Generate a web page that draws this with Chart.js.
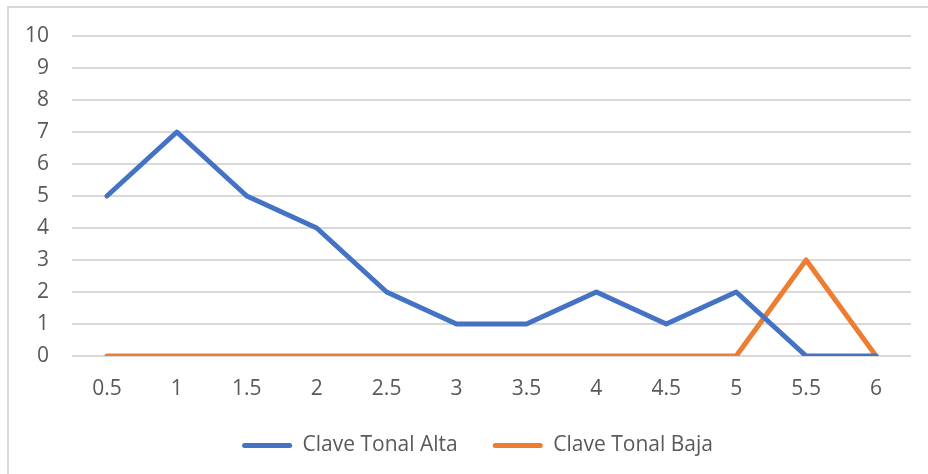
<!DOCTYPE html>
<html>
<head>
<meta charset="utf-8">
<script src="https://cdn.jsdelivr.net/npm/chart.js@4/dist/chart.umd.min.js"></script>
<style>
  html, body { margin: 0; padding: 0; background: #ffffff; }
  #wrap { width: 928px; height: 474px; position: relative; }
</style>
</head>
<body>
<div id="wrap"><canvas id="chart" width="928" height="474"></canvas></div>
<script>
// Category labels along the x axis
const categories = ['0.5', '1', '1.5', '2', '2.5', '3', '3.5', '4', '4.5', '5', '5.5', '6'];
// Series values
const claveTonalAlta = [5, 7, 5, 4, 2, 1, 1, 2, 1, 2, 0, 0];
const claveTonalBaja = [0, 0, 0, 0, 0, 0, 0, 0, 0, 0, 3, 0];
// Value axis range
const yMin = 0;
const yMax = 10;
const yStep = 1;

const textColor = '#595959';
const gridColor = '#D9D9D9';
const fontFamily = "'Open Sans', 'Liberation Sans', sans-serif";

// Thin frame around the chart block
const framePlugin = {
  id: 'frame',
  beforeDraw(chart) {
    const ctx = chart.ctx;
    ctx.save();
    ctx.fillStyle = '#ffffff';
    ctx.fillRect(0, 0, chart.width, chart.height);
    ctx.strokeStyle = gridColor;
    ctx.lineWidth = 2;
    ctx.strokeRect(8, 7, chart.width + 20, chart.height + 20);
    ctx.restore();
  }
};

// Centre the legend under the plot area rather than the full canvas
const legendShift = {
  id: 'legendShift',
  afterLayout(chart) {
    const lg = chart.legend;
    if (lg) { lg.left += 22; lg.right += 22; }
  }
};

new Chart(document.getElementById('chart'), {
  type: 'line',
  data: {
    labels: categories,
    datasets: [
      {
        label: 'Clave Tonal Alta',
        data: claveTonalAlta,
        borderColor: '#4472C4',
        backgroundColor: '#4472C4',
        borderWidth: 5,
        pointRadius: 0,
        tension: 0,
        borderCapStyle: 'round',
        borderJoinStyle: 'round'
      },
      {
        label: 'Clave Tonal Baja',
        data: claveTonalBaja,
        borderColor: '#ED7D31',
        backgroundColor: '#ED7D31',
        borderWidth: 5,
        pointRadius: 0,
        tension: 0,
        borderCapStyle: 'round',
        borderJoinStyle: 'round'
      }
    ]
  },
  options: {
    responsive: false,
    animation: false,
    layout: { padding: { left: 0, right: 17, top: 36, bottom: 8 } },
    plugins: {
      tooltip: { enabled: false },
      legend: {
        position: 'bottom',
        labels: {
          color: textColor,
          font: { family: fontFamily, size: 21 },
          boxWidth: 50,
          boxHeight: 5,
          padding: 35,
          generateLabels(chart) {
            return chart.data.datasets.map((ds, i) => ({
              text: ds.label,
              fillStyle: ds.borderColor,
              strokeStyle: ds.borderColor,
              lineWidth: 0,
              fontColor: textColor,
              datasetIndex: i,
              borderRadius: 2.5
            }));
          }
        }
      }
    },
    scales: {
      x: {
        offset: true,
        afterFit(scale) { scale.height = 44; },
        grid: { display: false, drawTicks: false },
        border: { display: false },
        ticks: {
          color: textColor,
          font: { family: fontFamily, size: 21 },
          padding: 20,
          maxRotation: 0,
          autoSkip: false
        }
      },
      y: {
        min: yMin,
        max: yMax,
        afterFit(scale) { scale.width = 72; },
        grid: { color: gridColor, lineWidth: 2, drawTicks: false },
        border: { display: false },
        ticks: {
          stepSize: yStep,
          color: textColor,
          font: { family: fontFamily, size: 21 },
          padding: 23
        }
      }
    }
  },
  plugins: [framePlugin, legendShift]
});
</script>
</body>
</html>
